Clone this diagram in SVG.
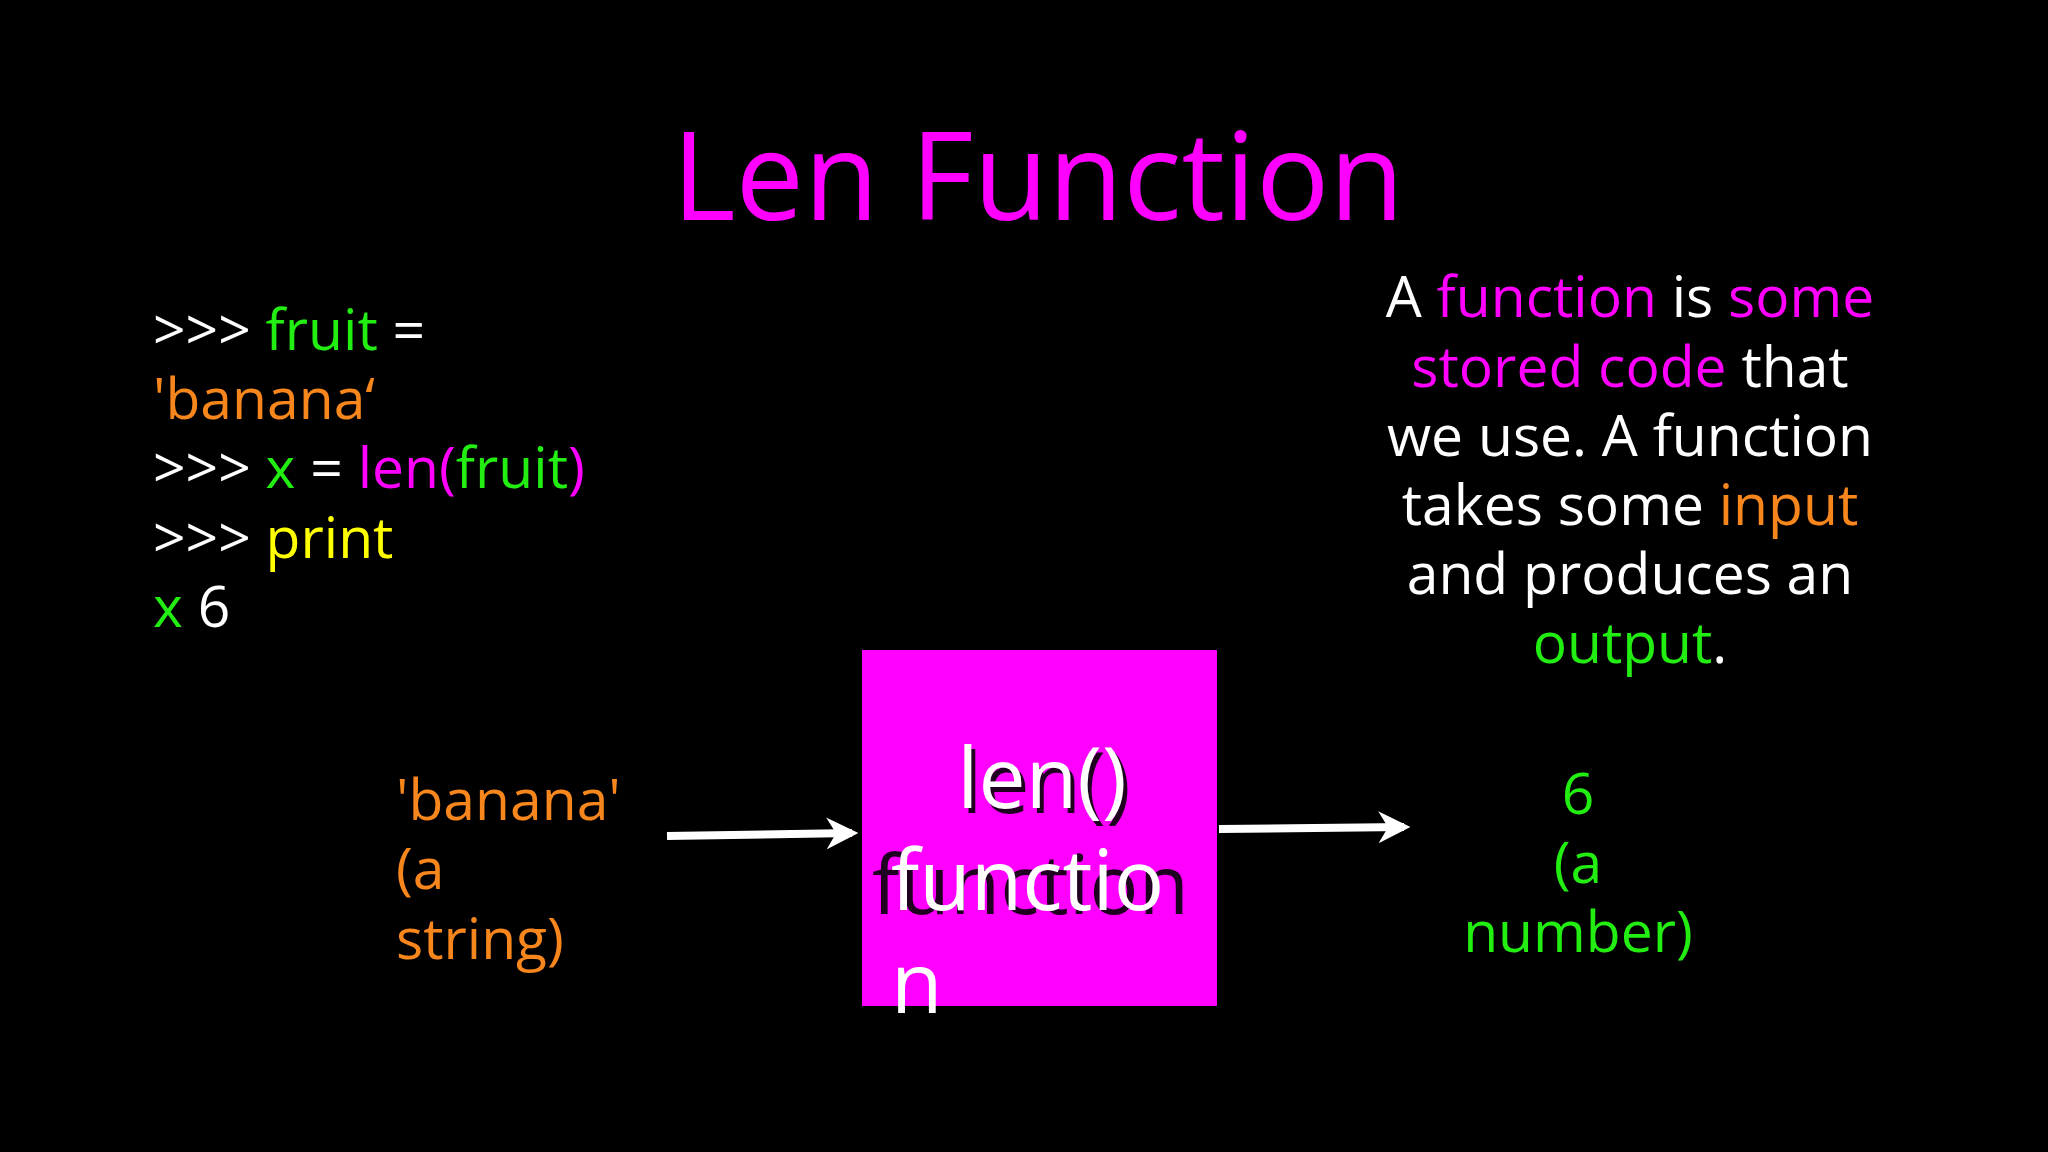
<svg xmlns="http://www.w3.org/2000/svg" width="2048" height="1152" viewBox="0 0 2048 1152">
<defs>
<style>
text{font-family:"Open Sans","Noto Sans",sans-serif}
.c{font-size:57px;fill:#fff}
.w{fill:#fff}.g{fill:#22ee11}.o{fill:#f7861c}.m{fill:#ff00ff}.y{fill:#ffff00}
.conn{stroke:#fff;stroke-width:8;fill:none}
</style>
<marker id="ah" viewBox="0 0 10 10" refX="8" refY="5" markerWidth="4" markerHeight="4" orient="auto"><path d="M0,0L10,5L0,10L3,5Z" fill="#fff"/></marker>
</defs>
<rect width="2048" height="1152" fill="#000"/>
<g id="title"><text x="1038" y="220" font-size="122" text-anchor="middle" class="m">Len Function</text></g>
<g id="code" class="c">
<text x="153" y="350">&gt;&gt;&gt; <tspan class="g">fruit</tspan> =</text>
<text x="153" y="419" class="o">'banana‘</text>
<text x="153" y="488">&gt;&gt;&gt; <tspan class="g">x</tspan> = <tspan class="m">len(</tspan><tspan class="g">fruit</tspan><tspan class="m">)</tspan></text>
<text x="153" y="558">&gt;&gt;&gt; <tspan class="y">print</tspan></text>
<text x="153" y="627"><tspan class="g">x</tspan> 6</text>
</g>
<g id="desc" class="c" text-anchor="middle">
<text x="1630" y="317">A <tspan class="m">function</tspan> is <tspan class="m">some</tspan></text>
<text x="1630" y="387"><tspan class="m">stored code</tspan> that</text>
<text x="1630" y="456">we use. A function</text>
<text x="1630" y="525">takes some <tspan class="o">input</tspan></text>
<text x="1630" y="594">and produces an</text>
<text x="1630" y="663"><tspan class="g">output</tspan>.</text>
</g>
<g id="input" class="c">
<text x="396" y="820" class="o">'banana'</text>
<text x="396" y="889" class="o">(a</text>
<text x="396" y="959" class="o">string)</text>
</g>
<g id="box">
<rect x="862" y="650" width="355" height="356" fill="#ff00ff"/>
<text x="1046" y="813" font-size="84" text-anchor="middle" fill="#200020">len()</text>
<text x="872" y="914" font-size="82" fill="#200020">function</text>
<text x="1042" y="808" font-size="84" text-anchor="middle" class="w">len()</text>
<text x="891" y="910" font-size="84" class="w">functio</text>
<text x="891" y="1013" font-size="84" class="w">n</text>
</g>
<g id="output" class="c" text-anchor="middle">
<text x="1578" y="814" class="g">6</text>
<text x="1578" y="883" class="g">(a</text>
<text x="1578" y="952" class="g">number)</text>
</g>
<g id="connectors">
<line class="conn" x1="667" y1="836" x2="852" y2="833" marker-end="url(#ah)"/>
<line class="conn" x1="1219" y1="829" x2="1404" y2="827" marker-end="url(#ah)"/>
</g>
</svg>
